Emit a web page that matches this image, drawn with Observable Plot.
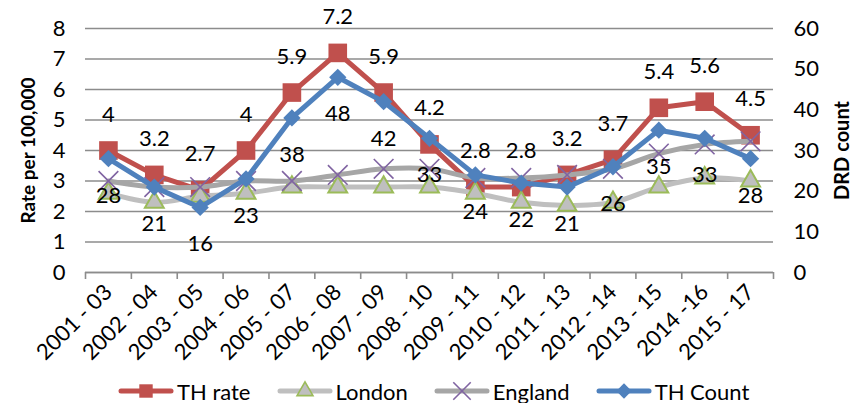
<!DOCTYPE html>
<html><head><meta charset="utf-8">
<script src="https://cdn.jsdelivr.net/npm/d3@7"></script>
<script src="https://cdn.jsdelivr.net/npm/@observablehq/plot@0.6"></script>
<style>
body{margin:0;background:#fff;font-family:Lato,"Open Sans",sans-serif;}
#legend{display:flex;align-items:center;height:28px;padding-left:118px;font-size:22px;color:#000;margin-top:2px;}
.item{display:flex;align-items:center;margin-right:26px;}
.item svg{margin-right:3px;}
</style></head><body>
<div id="chart"></div><div id="legend"></div>
<script>
const periods = ["2001 - 03","2002 - 04","2003 - 05","2004 - 06","2005 - 07","2006 - 08","2007 - 09","2008 - 10","2009 - 11","2010 - 12","2011 - 13","2012 - 14","2013 - 15","2014 -16","2015 - 17"];
const thRate  = [4, 3.2, 2.7, 4, 5.9, 7.2, 5.9, 4.2, 2.8, 2.8, 3.2, 3.7, 5.4, 5.6, 4.5];
const london  = [2.6, 2.3, 2.5, 2.6, 2.8, 2.8, 2.8, 2.8, 2.6, 2.3, 2.2, 2.3, 2.8, 3.1, 3.0];
const england = [3.0, 2.8, 2.8, 3.0, 3.0, 3.2, 3.4, 3.4, 3.1, 3.1, 3.2, 3.4, 3.9, 4.2, 4.3];
const thCount = [28, 21, 16, 23, 38, 48, 42, 33, 24, 22, 21, 26, 35, 33, 28];
const rateTicks = [0, 1, 2, 3, 4, 5, 6, 7, 8];
const countTicks = [0, 10, 20, 30, 40, 50, 60];
const seriesNames = ["TH rate", "London", "England", "TH Count"];

const k = rateTicks[rateTicks.length-1] / countTicks[countTicks.length-1];
const rows = periods.map((p, i) => ({i, p, rate: thRate[i], london: london[i], england: england[i], count: thCount[i] * k, countLabel: thCount[i]}));
const idx = periods.map((p, i) => i);
const bounds = d3.range(periods.length + 1).map(i => i - 0.5);

const C = {rate: "#C0504D", london: "#BFBFBF", londonEdge: "#9BBB59", england: "#A6A6A6", englandMark: "#8064A2", count: "#4F81BD", grid: "#8C8C8C"};

const chart = Plot.plot({
  width: 853, height: 375,
  marginLeft: 85, marginRight: 80, marginTop: 28, marginBottom: 103,
  style: {fontFamily: "Lato, 'Open Sans', sans-serif", fontSize: "22px", color: "#000", background: "#fff"},
  x: {type: "linear", domain: [-0.5, periods.length - 0.5]},
  y: {domain: [0, 8]},
  marks: [
    Plot.gridY(rateTicks, {stroke: C.grid, strokeOpacity: 1, strokeWidth: 1.4}),
    Plot.ruleY([0], {stroke: C.grid, strokeWidth: 1.6}),
    Plot.axisY(rateTicks, {anchor: "left", tickSize: 0, tickPadding: 20, fontSize: 22, label: null}),
    Plot.axisY(countTicks.map(v => v * k), {anchor: "right", tickSize: 0, tickPadding: 20, fontSize: 22, label: null, tickFormat: d => String(Math.round(d / k))}),
    Plot.axisX(bounds, {anchor: "bottom", tickSize: 7, stroke: C.grid, strokeWidth: 1.6, tickFormat: () => "", label: null}),
    Plot.axisX(idx, {anchor: "bottom", tickSize: 0, tickPadding: 16, tickRotate: -45, fontSize: 22, tickFormat: i => periods[i], label: null}),
    Plot.text(["Rate per 100,000"], {frameAnchor: "left", textAnchor: "middle", dx: -57, rotate: -90, fontWeight: "bold", fontSize: 19}),
    Plot.text(["DRD count"], {frameAnchor: "right", textAnchor: "middle", dx: 69, rotate: -90, fontWeight: "bold", fontSize: 20}),
    Plot.line(rows, {x: "i", y: "rate", stroke: C.rate, strokeWidth: 5}),
    Plot.dot(rows, {x: "i", y: "rate", symbol: "square", r: 10.5, fill: C.rate}),
    Plot.line(rows, {x: "i", y: "london", stroke: C.london, strokeWidth: 5, curve: "catmull-rom"}),
    Plot.dot(rows, {x: "i", y: "london", symbol: "triangle", r: 7, fill: C.london, stroke: C.londonEdge, strokeWidth: 2}),
    Plot.line(rows, {x: "i", y: "england", stroke: C.england, strokeWidth: 5, curve: "catmull-rom"}),
    Plot.dot(rows, {x: "i", y: "england", symbol: "times", r: 9, stroke: C.englandMark, strokeWidth: 1.6}),
    Plot.line(rows, {x: "i", y: "count", stroke: C.count, strokeWidth: 5}),
    Plot.dot(rows, {x: "i", y: "count", symbol: "diamond2", r: 7.8, fill: C.count}),
    Plot.text(rows, {x: "i", y: "rate", text: d => String(d.rate), dy: -36, fontSize: 22, fill: "#000"}),
    Plot.text(rows, {x: "i", y: "count", text: d => String(d.countLabel), dy: 37, fontSize: 22, fill: "#000"})
  ]
});
document.getElementById("chart").appendChild(chart);

// legend
const legendSpec = [
  {name: seriesNames[0], line: C.rate, sym: d3.symbolSquare, size: 180, fill: C.rate, stroke: "none"},
  {name: seriesNames[1], line: C.london, sym: d3.symbolTriangle, size: 110, fill: C.london, stroke: C.londonEdge},
  {name: seriesNames[2], line: C.england, sym: d3.symbolTimes, size: 200, fill: "none", stroke: C.englandMark},
  {name: seriesNames[3], line: C.count, sym: d3.symbolDiamond2, size: 150, fill: C.count, stroke: "none"}
];
const leg = d3.select("#legend");
legendSpec.forEach(s => {
  const it = leg.append("div").attr("class", "item");
  const sv = it.append("svg").attr("width", 56).attr("height", 24);
  sv.append("line").attr("x1", 3).attr("x2", 53).attr("y1", 12).attr("y2", 12).attr("stroke", s.line).attr("stroke-width", 5).attr("stroke-linecap", "round");
  sv.append("path").attr("transform", "translate(28,12)").attr("d", d3.symbol(s.sym, s.size)()).attr("fill", s.fill).attr("stroke", s.stroke).attr("stroke-width", 1.6);
  it.append("span").text(s.name);
});
</script>
</body></html>
